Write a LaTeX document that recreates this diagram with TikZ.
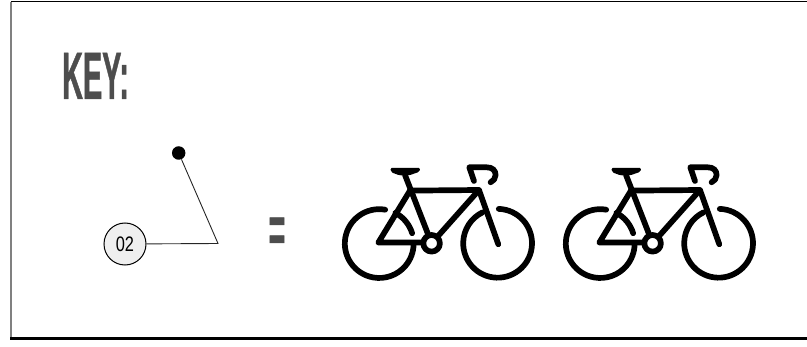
\documentclass[tikz,border=0pt]{standalone}
\usepackage{fontspec}
\setmainfont{Liberation Sans}
\newfontfamily\keyfont[FakeStretch=0.43,FakeBold=0.6]{Liberation Sans Bold}
\newfontfamily\tagfont[FakeStretch=0.78]{Liberation Sans}
\definecolor{keygray}{HTML}{4D4D4D}
\definecolor{tagfill}{HTML}{EFEFEF}
\tikzset{
    keytext/.style={text=keygray,inner sep=0pt,font=\keyfont\fontsize{67}{67}\selectfont},
    tagnode/.style={circle,draw=black,line width=1pt,fill=tagfill,minimum size=42pt,inner sep=0pt,font=\tagfont\fontsize{21}{21}\selectfont},
    pinnode/.style={circle,fill=black,minimum size=13.5pt,inner sep=0pt},
    leader/.style={line width=0.9pt,draw=black!85},
    bikeline/.style={line width=5.7pt,line cap=round,line join=round},
    bike/.pic={
        \draw[bikeline] (5.9,33.6) arc (80:360:34.4);
        \draw[bikeline] (119.5,34.4) arc (88:-244:34.4);
        \draw[bikeline] (16.1,30.4) arc (62:17:34.4);
        \draw[bikeline] (30.7,52.7) -- (99.7,53.3) -- (119,-1);
        \draw[bikeline] (25.7,68.3) -- (52.3,0) -- (99.7,53.3);
        \draw[bikeline] (30.7,52.7) -- (-1,0.7) -- (52.3,0.7);
        \draw[bikeline,fill=white] (52.3,0) circle (8.3);
        \fill[rounded corners=1.5pt] (11,75.5) -- (41,75.5) -- (40,71.5) -- (30,68) -- (20,68) -- (12,71) -- cycle;
        \draw[bikeline] (94.7,62.3) -- (90,76) -- (107.3,76) .. controls (113,76) and (116.3,73) .. (116.3,68.3) .. controls (116.3,65) and (114,62) .. (111.3,61);
    }
}
\begin{document}
\begin{tikzpicture}[x=1pt,y=1pt]
    \useasboundingbox (0,0) rectangle (807,346);
    % frame
    \draw[line width=1pt] (11,344) -- (807,344);
    \draw[line width=1.5pt,black!50] (11,344) -- (11,8);
    \draw[line width=3.6pt] (10,7.5) -- (807,7.5);
    % title
    \node[keytext,anchor=base west] (title) at (62,247) {KEY:};
    % leader
    \node[tagnode] (tag) at (125,102) {02};
    \node[pinnode] (pin) at (178.7,193) {};
    \coordinate (elbow) at (218,102.5);
    \draw[leader] (tag) -- (elbow) -- (pin);
    \node[keytext,anchor=center] (equals) at (277,111) {=};
    % bikes
    \pic at (379.3,102.7) {bike};
    \pic at (600.3,102.7) {bike};
\end{tikzpicture}
\end{document}
